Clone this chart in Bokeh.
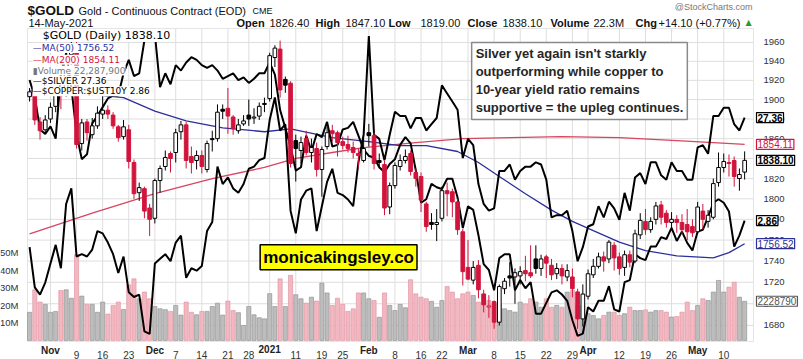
import math
import pandas as pd
from bokeh.plotting import figure
from bokeh.models import (Range1d, LinearAxis, LogAxis, LogScale, LinearScale, FixedTicker, Label,
                          ColumnDataSource, NumeralTickFormatter, BoxAnnotation)
from bokeh.embed import file_html
from bokeh.resources import INLINE

# ---------------- data ----------------
holidays = ["2020-11-26", "2020-12-25", "2021-01-01", "2021-01-18", "2021-02-15", "2021-04-02"]
dates = [d for d in pd.bdate_range("2020-10-27", "2021-05-14") if d.strftime("%Y-%m-%d") not in holidays]

open_ = [1903, 1907, 1877, 1869, 1880, 1893, 1911, 1906, 1947, 1950,
         1855, 1877, 1864, 1873, 1885, 1889, 1884, 1872, 1862, 1869,
         1836, 1806, 1810, 1791, 1781, 1818, 1832, 1845, 1846, 1867,
         1874, 1842, 1838, 1843, 1829, 1860, 1860, 1890, 1891, 1882,
         1868, 1875, 1884, 1881, 1883, 1896, 1901, 1944, 1953, 1921,
         1917, 1858, 1848, 1860, 1846, 1850, 1829, 1852, 1868, 1866,
         1857, 1854, 1851, 1845, 1838, 1866, 1863, 1838, 1834, 1792,
         1813, 1832, 1838, 1845, 1826, 1822, 1795, 1777, 1775, 1781,
         1808, 1807, 1797, 1768, 1734, 1722, 1736, 1709, 1697, 1702,
         1683, 1714, 1726, 1725, 1726, 1731, 1729, 1742, 1733, 1744,
         1736, 1728, 1733, 1725, 1725, 1711, 1686, 1707, 1727, 1735,
         1744, 1742, 1755, 1744, 1734, 1746, 1740, 1765, 1778, 1770,
         1780, 1794, 1786, 1777, 1780, 1777, 1775, 1773, 1768, 1788,
         1778, 1782, 1816, 1831, 1836, 1838, 1820, 1826.4]
high = [1912, 1910, 1882, 1884, 1897, 1913, 1913, 1951, 1965, 1966,
        1880, 1880, 1881, 1893, 1905, 1894, 1887, 1874, 1879, 1874,
        1839, 1816, 1812, 1795, 1820, 1833, 1848, 1847, 1870, 1878,
        1877, 1852, 1848, 1848, 1858, 1868, 1895, 1895, 1912, 1884,
        1880, 1884, 1900, 1891, 1897, 1902, 1949, 1957, 1962, 1924,
        1919, 1864, 1862, 1868, 1860, 1856, 1852, 1872, 1874, 1868,
        1862, 1863, 1857, 1850, 1870, 1875, 1866, 1845, 1838, 1816,
        1836, 1844, 1849, 1848, 1830, 1826, 1797, 1786, 1790, 1812,
        1816, 1810, 1800, 1771, 1760, 1740, 1741, 1713, 1708, 1703,
        1718, 1724, 1739, 1733, 1735, 1745, 1755, 1755, 1746, 1746,
        1742, 1738, 1737, 1737, 1733, 1714, 1718, 1732, 1742, 1748,
        1749, 1760, 1758, 1748, 1750, 1750, 1770, 1786, 1790, 1782,
        1797, 1798, 1789, 1787, 1784, 1785, 1790, 1780, 1797, 1795,
        1789, 1820, 1846, 1845, 1844, 1842, 1830, 1847.1]
low = [1898, 1874, 1859, 1866, 1876, 1887, 1890, 1903, 1936, 1850,
       1848, 1858, 1860, 1870, 1880, 1880, 1870, 1857, 1859, 1830,
       1800, 1798, 1781, 1764, 1776, 1806, 1828, 1826, 1836, 1859,
       1830, 1825, 1829, 1825, 1826, 1847, 1857, 1880, 1865, 1864,
       1865, 1873, 1873, 1875, 1879, 1887, 1898, 1934, 1902, 1907,
       1831, 1817, 1835, 1843, 1836, 1822, 1802, 1849, 1857, 1842,
       1849, 1846, 1840, 1831, 1836, 1852, 1829, 1830, 1784, 1785,
       1810, 1828, 1835, 1823, 1812, 1787, 1768, 1770, 1759, 1778,
       1783, 1782, 1765, 1717, 1722, 1718, 1705, 1692, 1687, 1677,
       1680, 1709, 1716, 1700, 1718, 1721, 1724, 1728, 1726, 1724,
       1722, 1723, 1718, 1721, 1706, 1677, 1679, 1704, 1724, 1733,
       1730, 1738, 1731, 1727, 1726, 1734, 1738, 1761, 1765, 1767,
       1775, 1775, 1772, 1771, 1767, 1766, 1760, 1763, 1766, 1770,
       1772, 1780, 1812, 1826, 1822, 1812, 1808, 1819.0]
close = [1908, 1879, 1868, 1879, 1892, 1910, 1904, 1946, 1951, 1854,
         1876, 1866, 1873, 1886, 1889, 1885, 1873, 1861, 1872, 1837,
         1805, 1811, 1788, 1780, 1818, 1830, 1841, 1840, 1866, 1874,
         1838, 1836, 1843, 1832, 1855, 1859, 1887, 1888, 1883, 1870,
         1874, 1878, 1880, 1882, 1893, 1895, 1946, 1954, 1910, 1915,
         1835, 1850, 1856, 1846, 1851, 1829, 1849, 1866, 1865, 1856,
         1853, 1850, 1846, 1843, 1850, 1863, 1835, 1836, 1791, 1813,
         1833, 1838, 1842, 1827, 1820, 1799, 1773, 1775, 1777, 1808,
         1805, 1797, 1770, 1730, 1723, 1734, 1713, 1699, 1698, 1683,
         1716, 1721, 1724, 1729, 1730, 1728, 1726, 1733, 1742, 1738,
         1727, 1733, 1726, 1731, 1714, 1686, 1709, 1728, 1735, 1744,
         1740, 1758, 1743, 1733, 1746, 1739, 1766, 1779, 1770, 1778,
         1793, 1782, 1777, 1780, 1777, 1770, 1768, 1767, 1792, 1780,
         1784, 1815, 1831, 1837, 1835, 1822, 1824, 1838.1]
prev_close_first = 1902

volume_m = [16, 28.8, 21.8, 20.5, 16, 16.5, 28.4, 28.8, 24, 48.7,
            25.2, 20.5, 20.5, 16, 21.8, 15, 19.9, 21.8, 17.6, 31.6,
            35, 23.7, 27.5, 23.7, 19.3, 18, 17.5, 16.5, 19.9, 14.4,
            21.8, 16, 14.6, 16.5, 16.5, 19.3, 21.2, 14.4, 22.4, 17,
            15.8, 8.5, 19.3, 14.6, 12.9, 12.3, 26.6, 19.3, 35, 19.3,
            37, 26, 23.7, 21.2, 24.6, 22.4, 32.6, 27, 19.9, 24,
            20.5, 16.5, 18, 27, 27, 23.7, 22.7, 13.2, 27, 19.9,
            17, 20.5, 18.6, 34.5, 26.5, 24.6, 23.7, 22.2, 18.9, 22.7,
            30.7, 27.5, 23.7, 26.5, 27.5, 25.6, 21.8, 26.5, 22.7, 20.8,
            20.8, 18.0, 17.0, 16.1, 21.8, 20.8, 23.7, 21.8, 18.9, 23.7,
            18.9, 19.9, 18.9, 27.5, 28.4, 19.9, 19.9, 15.2, 14.2, 12.3,
            14.2, 16.1, 16.1, 14.2, 15.2, 18.9, 17.0, 17.0, 17.4, 16.1,
            17.0, 17.0, 16.1, 13.3, 13.6, 16.1, 21.8, 17.0, 19.9, 23.7,
            22.7, 27.5, 34.1, 27.5, 30.3, 33.1, 24.6, 22.2879]

silver = [24.40, 23.55, 23.40, 23.65, 24.05, 24.45, 23.95, 25.35, 25.70, 24.20,
          24.25, 24.20, 24.35, 24.75, 24.70, 24.50, 24.25, 23.85, 24.20, 23.45,
          23.35, 23.40, 22.65, 22.60, 24.05, 24.15, 24.25, 24.10, 24.50, 24.65,
          23.75, 23.95, 23.90, 24.00, 24.75, 24.95, 26.20, 25.80, 25.95, 25.70,
          25.60, 25.80, 26.15, 26.20, 26.35, 26.40, 27.30, 27.85, 27.05, 27.20,
          25.20, 24.70, 25.45, 25.65, 25.70, 24.75, 25.30, 25.85, 26.15, 25.60,
          25.55, 25.45, 25.30, 26.30, 26.95, 29.40, 26.95, 26.85, 26.35, 26.95,
          27.50, 27.40, 27.40, 27.10, 27.35, 27.35, 27.05, 27.20, 27.35, 28.15,
          27.95, 27.75, 27.55, 26.40, 26.85, 26.70, 25.80, 25.35, 25.20, 25.25,
          26.10, 26.10, 26.25, 25.90, 26.10, 26.20, 26.20, 26.30, 26.25, 25.90,
          25.05, 25.10, 25.10, 25.20, 24.75, 24.10, 24.40, 24.85, 24.90, 25.30,
          25.05, 25.40, 25.25, 25.00, 25.60, 25.20, 25.95, 26.05, 25.80, 26.30,
          26.30, 26.00, 25.90, 26.30, 26.10, 26.10, 25.90, 25.90, 26.65, 26.70,
          26.50, 27.40, 27.40, 27.60, 27.60, 27.20, 27.05, 27.36]

copper_ust10y = [3.75, 3.63, 3.41, 3.38, 3.43, 3.35, 3.80, 3.95, 3.70, 3.38,
                 3.22, 3.25, 3.45, 3.50, 3.56, 3.62, 3.64, 3.64, 3.80, 3.90,
                 3.78, 3.80, 4.05, 4.13, 4.10, 3.70, 3.80, 3.72, 3.86, 3.82,
                 3.88, 3.92, 3.90, 3.86, 3.84, 3.86, 3.82, 3.76, 3.78, 3.80,
                 3.75, 3.77, 3.73, 3.76, 3.80, 3.80, 3.88, 3.79, 3.54, 3.42,
                 3.30, 3.15, 3.17, 3.37, 3.27, 3.38, 3.36, 3.46, 3.30, 3.31,
                 3.41, 3.42, 3.46, 3.37, 3.28, 3.24, 3.23, 3.17, 3.14, 3.19,
                 3.22, 3.31, 3.36, 3.32, 3.15, 2.96, 2.98, 3.07, 3.05, 3.04,
                 3.10, 3.10, 2.99, 2.82, 2.94, 2.92, 2.78, 2.63, 2.60, 2.50,
                 2.66, 2.68, 2.68, 2.50, 2.55, 2.51, 2.54, 2.39, 2.39, 2.44,
                 2.49, 2.50, 2.48, 2.45, 2.36, 2.29, 2.30, 2.42, 2.40, 2.45,
                 2.45, 2.52, 2.41, 2.40, 2.54, 2.55, 2.68, 2.66, 2.65, 2.72,
                 2.72, 2.77, 2.76, 2.82, 2.75, 2.80, 2.74, 2.70, 2.80, 2.81,
                 2.88, 2.96, 2.98, 2.96, 2.91, 2.72, 2.78, 2.86]

ma50_idx = [0, 9, 18, 24, 30, 37, 45, 50, 58, 65, 71, 76, 82, 86, 90, 95, 100, 104, 108, 113, 118, 124, 131, 134, 137]
ma50_val = [1909, 1907, 1902, 1888, 1878, 1871, 1867, 1870, 1861, 1857, 1853, 1853, 1847, 1836, 1822, 1805,
            1789, 1778, 1769, 1758, 1750, 1745, 1743, 1748, 1756.52]
ma200_idx = [0, 12, 24, 35, 45, 51, 58, 64, 74, 83, 92, 102, 113, 124, 131, 137]
ma200_val = [1766, 1786, 1805, 1820, 1831, 1840, 1846, 1851, 1856, 1860, 1861, 1862, 1861, 1858, 1856, 1854.11]

tick_dates = ["2020-11-02", "2020-11-09", "2020-11-16", "2020-11-23", "2020-12-01", "2020-12-07",
              "2020-12-14", "2020-12-21", "2020-12-28", "2021-01-04", "2021-01-11", "2021-01-19",
              "2021-01-25", "2021-02-01", "2021-02-08", "2021-02-16", "2021-02-22", "2021-03-01",
              "2021-03-08", "2021-03-15", "2021-03-22", "2021-03-29", "2021-04-01", "2021-04-12",
              "2021-04-19", "2021-04-26", "2021-05-03", "2021-05-10"]
tick_labels = ["Nov", "9", "16", "23", "Dec", "7", "14", "21", "28", "2021", "11", "19", "25", "Feb",
               "8", "16", "22", "Mar", "8", "15", "22", "29", "Apr", "12", "19", "26", "May", "10"]
month_labels = ["Nov", "Dec", "2021", "Feb", "Mar", "Apr", "May"]
price_ticks = list(range(1680, 1961, 20))
volume_ticks = [10e6, 20e6, 30e6, 40e6, 50e6]

# ---------------- layout (pixels) ----------------
W, H = 803, 359
PL, PR, PT, PB = 27, 753, 28, 341          # chart panel inside the canvas
X0, X1 = -0.4, 138.7                        # index range of the panel
P_LO, P_HI = 1665.4, 1975.0                 # price range of the panel (log)
V_LO, V_HI = -0.6e6, 177.3e6                # volume range of the panel
S_LO, S_HI = 22.45, 29.60                   # silver range of the panel (log)
R_LO, R_HI = 2.265, 4.143                   # copper/10y range of the panel (log)

kx = (X1 - X0) / (PR - PL)
x_range = Range1d(X0 - PL * kx, X1 + (W - PR) * kx)

def ext_log(lo, hi):
    k = math.log(hi / lo) / (PB - PT)
    return Range1d(lo * math.exp(-k * (H - PB)), hi * math.exp(k * PT))

def ext_y_lin(lo, hi):
    k = (hi - lo) / (PB - PT)
    return Range1d(lo - k * (H - PB), hi + k * PT)

# ---------------- derived ----------------
n = len(close)
idx = list(range(n))
date_str = [d.strftime("%Y-%m-%d") for d in dates]
tick_idx = [date_str.index(t) for t in tick_dates]
prev = [prev_close_first] + close[:-1]
RED, BLK, BLUE, MARED = "#d2143c", "#000000", "#2b2f9a", "#d9445e"
up = [c >= pc for c, pc in zip(close, prev)]
line_col = [BLK if u else RED for u in up]
fill_col = ["#ffffff" if c >= o else lc for c, o, lc in zip(close, open_, line_col)]
body_top = [max(o, c) for o, c in zip(open_, close)]
body_bot = [min(o, c) for o, c in zip(open_, close)]
vol = [v * 1e6 for v in volume_m]
vol_fill = ["#bdbdbd" if u else "#f3b7c1" for u in up]
vol_line = ["#8c8c8c" if u else "#de8f9c" for u in up]

src = ColumnDataSource(dict(x=idx, o=open_, h=high, l=low, c=close, top=body_top, bot=body_bot,
                            lc=line_col, fc=fill_col, vol=vol, vf=vol_fill, vl=vol_line,
                            silver=silver, ratio=copper_ust10y))

p = figure(width=W, height=H, x_range=x_range, y_range=ext_log(P_LO, P_HI), y_axis_type="log",
           x_axis_location=None, y_axis_location=None, output_backend="svg", toolbar_location=None,
           min_border=0)
p.extra_y_ranges = {"vol": ext_y_lin(V_LO, V_HI), "silver": ext_log(S_LO, S_HI), "ratio": ext_log(R_LO, R_HI)}
p.extra_y_scales = {"vol": LinearScale(), "silver": LogScale(), "ratio": LogScale()}
p.background_fill_color = "#ffffff"
p.border_fill_color = "#ffffff"
p.outline_line_color = None
p.grid.visible = False

AX_FONT = "Liberation Sans"
# axes, fixed at the chart-panel edges
ya = LogAxis(fixed_location=X1, ticker=FixedTicker(ticks=price_ticks), formatter=NumeralTickFormatter(format="0"))
p.add_layout(ya, "right")
va = LinearAxis(y_range_name="vol", fixed_location=X0, ticker=FixedTicker(ticks=volume_ticks),
                major_label_overrides={v: f"{int(v / 1e6)}M" for v in volume_ticks})
p.add_layout(va, "left")
xa = LinearAxis(fixed_location=P_LO, ticker=FixedTicker(ticks=tick_idx),
                major_label_overrides={i: ("" if lab in month_labels else lab) for i, lab in zip(tick_idx, tick_labels)})
p.add_layout(xa, "below")
for ax in (ya, va, xa):
    ax.axis_line_color = None
    ax.major_tick_line_color = None
    ax.minor_tick_line_color = None
    ax.major_label_text_font = AX_FONT
    ax.major_label_text_color = "#333333"
ya.major_label_text_font_size = "9.5px"
va.major_label_text_font_size = "9.5px"
xa.major_label_text_font_size = "10px"
ya.major_label_standoff = 4
va.major_label_standoff = 3
xa.major_label_standoff = 3

# grid inside the chart panel
p.segment(x0=tick_idx, y0=[P_LO] * len(tick_idx), x1=tick_idx, y1=[P_HI] * len(tick_idx),
          line_color="#dedede", line_width=1)
p.segment(x0=[X0] * len(price_ticks), y0=price_ticks, x1=[X1] * len(price_ticks), y1=price_ticks,
          line_color="#dedede", line_width=1)

# volume
p.vbar(x="x", top="vol", bottom=0, width=0.8, fill_color="vf", line_color="vl", line_width=0.6,
       source=src, y_range_name="vol")
# moving averages
p.line(ma200_idx, ma200_val, line_color=MARED, line_width=1.3)
p.line(ma50_idx, ma50_val, line_color=BLUE, line_width=1.3)
# overlays
p.line("x", "silver", source=src, y_range_name="silver", line_color="black", line_width=2)
p.line("x", "ratio", source=src, y_range_name="ratio", line_color="black", line_width=2)
# candles
p.segment(x0="x", y0="h", x1="x", y1="l", line_color="lc", line_width=1, source=src)
p.vbar(x="x", top="top", bottom="bot", width=0.7, fill_color="fc", line_color="lc", line_width=1, source=src)

# chart-panel border
p.add_layout(BoxAnnotation(left=X0, right=X1, bottom=P_LO, top=P_HI, fill_alpha=0,
                           line_color="#a8a8a8", line_width=1, level="underlay"))

# month labels (bold) on the date row
for i, lab in zip(tick_idx, tick_labels):
    if lab in month_labels:
        p.add_layout(Label(x=i, y=H - PB - 3, x_units="data", y_units="screen", text=lab, text_align="center",
                           text_baseline="top", text_font=AX_FONT, text_font_size="10px",
                           text_font_style="bold", text_color="#222222"))

# header
def hlab(x, fy, text, size, bold=False, color="#111111", align="left", font=AX_FONT):
    p.add_layout(Label(x=x, y=H - fy, x_units="screen", y_units="screen", text=text, text_align=align,
                       text_baseline="middle", text_font=font, text_font_size=size,
                       text_font_style="bold" if bold else "normal", text_color=color))

hlab(27, 9.5, "$GOLD", "13.5px", True)
hlab(78, 10, "Gold - Continuous Contract (EOD)", "11px")
hlab(252, 10.5, "CME", "9px")
hlab(752, 6, "@StockCharts.com", "9px", color="#777777", align="right")
hlab(28, 22.5, "14-May-2021", "11px")
last = n - 1
pieces = [(236, "Open", True), (269, f"{open_[last]:.2f}", False), (315, "High", True),
          (345, f"{high[last]:.2f}", False), (388, "Low", True), (420, f"{low[last]:.2f}", False),
          (467, "Close", True), (502, f"{close[last]:.2f}", False), (550, "Volume", True),
          (593, f"{vol[last] / 1e6:.1f}M", False), (635, "Chg", True),
          (658, f"+{close[last] - close[last - 1]:.2f} (+{(close[last] / close[last - 1] - 1) * 100:.2f}%)", False)]
for x, t, b in pieces:
    hlab(x, 22.5, t, "11px", b)
hlab(745, 22, "▲", "8px", color="#2e9a2e", font="DejaVu Sans")

# legend (top-left)
LEG_FONT = "DejaVu Sans"
legend_rows = [(2.5, 1967.5, "$GOLD (Daily) 1838.10", "#000000", "11px"),
               (0.6, 1954.0, "—MA(50) 1756.52", BLUE, "9px"),
               (0.6, 1941.7, "—MA(200) 1854.11", RED, "9px"),
               (0.6, 1930.3, "▮Volume 22,287,900", "#777777", "9px"),
               (0.6, 1919.7, "—$SILVER 27.36", "#000000", "9px"),
               (0.6, 1908.7, "—$COPPER:$UST10Y 2.86", "#000000", "9px")]
for x, y, t, col, sz in legend_rows:
    p.add_layout(Label(x=x, y=y, text=t, text_align="left", text_baseline="middle", text_font=LEG_FONT,
                       text_font_size=sz, text_color=col, background_fill_color="white",
                       background_fill_alpha=1.0))

# annotation boxes
p.add_layout(Label(x=84.7, y=1960, text="Silver yet again isn't starkly\noutperforming while copper to\n10-year yield ratio remains\nsupportive = the upleg continues.",
                   text_align="left", text_baseline="top", text_font=AX_FONT, text_font_size="13px",
                   text_font_style="bold", text_color="#262626", text_line_height=1.2,
                   background_fill_color="white", border_line_color="#8a8a8a", border_line_width=1.5,
                   padding=4))
p.add_layout(Label(x=59.2, y=1743.5, text="monicakingsley.co", text_align="center", text_baseline="middle",
                   text_font=AX_FONT, text_font_size="17px", text_font_style="bold", text_color="black",
                   background_fill_color="#ffff00", border_line_color="black", border_line_width=1.5,
                   padding=3))

# value tags at right
def tag(y, text, rng, col, bold):
    kw = dict(y_range_name=rng) if rng else {}
    p.add_layout(Label(x=PR + 3, y=y, x_units="screen", text=text, text_align="left", text_baseline="middle",
                       text_font=AX_FONT, text_font_size="10px", text_font_style="bold" if bold else "normal",
                       text_color=col, background_fill_color="white", border_line_color=col,
                       border_line_width=1.2, padding=1, **kw))

tag(silver[-1], f"{silver[-1]:.2f}", "silver", "#000000", True)
tag(ma200_val[-1], f"{ma200_val[-1]:.2f}", None, RED, False)
tag(close[-1], f"{close[-1]:.2f}", None, "#000000", True)
tag(copper_ust10y[-1], f"{copper_ust10y[-1]:.2f}", "ratio", "#000000", True)
tag(ma50_val[-1], f"{ma50_val[-1]:.2f}", None, BLUE, False)
tag(vol[-1], f"{int(round(vol[-1] / 10)):d}", "vol", "#555555", False)

open("out.html", "w").write(file_html(p, INLINE))
